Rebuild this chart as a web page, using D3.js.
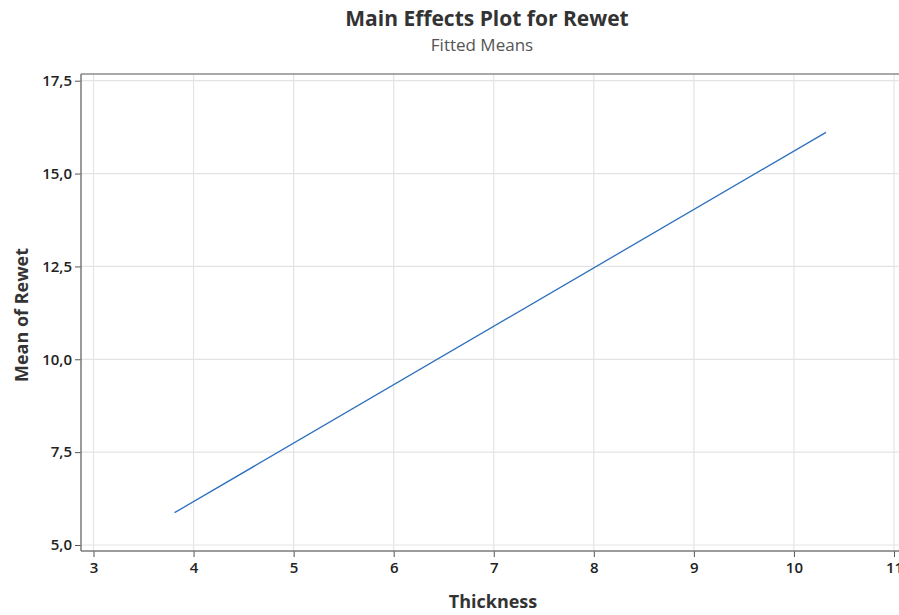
<!DOCTYPE html>
<html>
<head>
<meta charset="UTF-8" />
<script src="https://d3js.org/d3.v7.min.js"></script>
<style>
  body { margin: 0; background: #fff; }
  svg text { font-family: "Segoe UI", "Open Sans", "Noto Sans", sans-serif; }
</style>
</head>
<body>
<div id="chart"></div>
<script>
    // fitted means (end points of the fitted line)
    const thickness = [3.81, 10.32]
    const meanRewet = [5.87, 16.11]
    const xTicks = [3, 4, 5, 6, 7, 8, 9, 10, 11]
    const yTicks = [5.0, 7.5, 10.0, 12.5, 15.0, 17.5]

    const width = 899, height = 615
    const frame = { left: 81, top: 74, right: 905, bottom: 551 }

    const svg = d3.select('#chart')
        .append('svg')
        .attr('width', width)
        .attr('height', height)

    const x = d3.scaleLinear().domain([3, 11]).range([93.5, 894])
    const y = d3.scaleLinear().domain([5, 17.5]).range([545, 80.7])

    // grid
    svg.append('g')
        .selectAll('line')
        .data(xTicks)
        .join('line')
        .attr('x1', d => x(d)).attr('x2', d => x(d))
        .attr('y1', frame.top).attr('y2', frame.bottom)
        .style('stroke', '#e4e4e4').style('stroke-width', 1.2)
    svg.append('g')
        .selectAll('line')
        .data(yTicks)
        .join('line')
        .attr('x1', frame.left).attr('x2', frame.right)
        .attr('y1', d => y(d)).attr('y2', d => y(d))
        .style('stroke', '#e4e4e4').style('stroke-width', 1.2)

    // frame
    svg.append('line')
        .attr('x1', frame.left).attr('x2', frame.right)
        .attr('y1', frame.top).attr('y2', frame.top)
        .style('stroke', '#8c8c8c').style('stroke-width', 1.6)

    const fmt = d => d3.format('.1f')(d).replace('.', ',')

    // axes
    const xAxis = svg.append('g')
        .attr('transform', `translate(0, ${frame.bottom})`)
        .call(d3.axisBottom(x).tickValues(xTicks).tickSize(6).tickSizeOuter(0).tickPadding(5))
    xAxis.select('.domain').remove()
    xAxis.append('line')
        .attr('x1', frame.left).attr('x2', frame.right)
        .style('stroke', '#7a7a7a').style('stroke-width', 1.5)

    const yAxis = svg.append('g')
        .attr('transform', `translate(${frame.left}, 0)`)
        .call(d3.axisLeft(y).tickValues(yTicks).tickFormat(fmt).tickSize(6).tickSizeOuter(0).tickPadding(3))
    yAxis.select('.domain').remove()
    yAxis.append('line')
        .attr('y1', frame.top).attr('y2', frame.bottom)
        .style('stroke', '#7a7a7a').style('stroke-width', 1.5)

    svg.selectAll('.tick line').style('stroke', '#555')
    svg.selectAll('.tick text')
        .style('font-size', '15px')
        .style('font-weight', '600')
        .style('fill', '#222')

    // fitted line
    const pts = thickness.map((t, i) => [t, meanRewet[i]])
    svg.append('path')
        .datum(pts)
        .attr('d', d3.line().x(d => x(d[0])).y(d => y(d[1])))
        .style('fill', 'none')
        .style('stroke', '#2b6fbf')
        .style('stroke-width', 1.3)

    // titles
    svg.append('text')
        .attr('x', 487).attr('y', 26)
        .attr('text-anchor', 'middle')
        .style('font-size', '21px').style('font-weight', 'bold').style('fill', '#333')
        .text('Main Effects Plot for Rewet')
    svg.append('text')
        .attr('x', 482).attr('y', 51)
        .attr('text-anchor', 'middle')
        .style('font-size', '17px').style('fill', '#555')
        .text('Fitted Means')

    svg.append('text')
        .attr('x', 493).attr('y', 608)
        .attr('text-anchor', 'middle')
        .style('font-size', '18px').style('font-weight', 'bold').style('fill', '#333')
        .text('Thickness')
    svg.append('text')
        .attr('transform', 'translate(28, 315) rotate(-90)')
        .attr('text-anchor', 'middle')
        .style('font-size', '18px').style('font-weight', 'bold').style('fill', '#333')
        .text('Mean of Rewet')
</script>
</body>
</html>
